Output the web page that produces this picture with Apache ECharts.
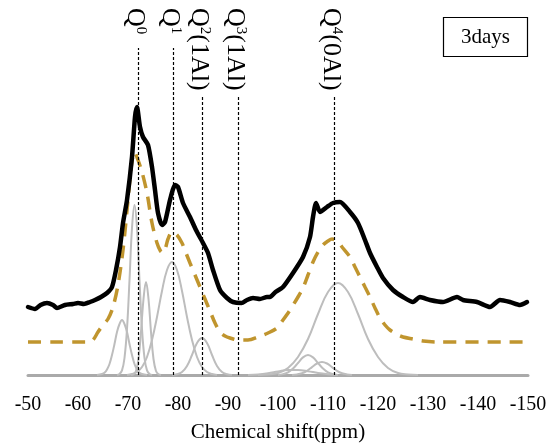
<!DOCTYPE html>
<html><head><meta charset="utf-8">
<script src="https://cdn.jsdelivr.net/npm/echarts@6/dist/echarts.min.js"></script>
<style>html,body{margin:0;padding:0;background:#fff}#c{width:554px;height:445px}</style>
</head><body><div id="c"></div>
<script>
// ---- data (ppm, intensity) ----
const measured = [[-50,68],[-51.4,66],[-52.5,70],[-53.8,72],[-55,70],[-55.8,67],[-57.4,70],[-59,71],[-60,72],[-61.2,71],[-62.4,73],[-63.4,75],[-64.6,78],[-65.8,82],[-66.8,88],[-67.6,105],[-68.4,128],[-69,152],[-69.8,175],[-70.8,218],[-71.4,258],[-71.8,268],[-72.4,248],[-73,238],[-74,230],[-74.8,208],[-75.4,185],[-76,162],[-76.8,150],[-77.4,153],[-78.4,175],[-79.4,190],[-80,188],[-81,172],[-82.4,158],[-83.6,145],[-85,132],[-86,122],[-87,105],[-88.4,85],[-89.8,77],[-91,73],[-92.7,72],[-93.8,75],[-95,77],[-96.4,76],[-97.8,78],[-98.4,78],[-99.5,83],[-101,88],[-103,102],[-105,118],[-106.4,138],[-107,158],[-107.6,172],[-108.4,163],[-109.8,168],[-111,172],[-112.4,173],[-114.4,163],[-116,152],[-117.4,135],[-118.4,122],[-119.8,108],[-121,97],[-123,85],[-125,78],[-127,73],[-128.4,78],[-130.4,75],[-133,73],[-135.8,78],[-137,75],[-139.8,73],[-142.4,68],[-144.4,75],[-146.4,73],[-148.4,70],[-149.8,73]];
const fitSum = [[-50,33],[-55,33],[-60,33],[-62,33],[-63,35],[-64,43],[-65,50],[-66,56],[-67,68],[-68,90],[-69,125],[-70,175],[-70.7,210],[-71.3,223],[-72,215],[-72.8,203],[-73.8,182],[-74.8,152],[-75.8,132],[-76.5,124],[-77,122],[-77.5,127],[-78,136],[-78.8,143],[-79.8,140],[-80.8,132],[-81.6,122],[-82.4,112],[-83.4,100],[-84.4,88],[-85.4,76],[-86.4,64],[-87.4,52],[-88.4,43],[-89.4,39],[-90.4,37],[-92,35],[-94,35],[-96,38],[-98,42],[-99.8,47],[-101,55],[-102.4,65],[-104,78],[-105,87],[-106,100],[-107,113],[-108,123],[-109,130],[-110,134],[-110.8,136],[-112,133],[-112.8,128],[-114.4,118],[-115.4,108],[-116.4,98],[-117.4,88],[-118.4,78],[-119.4,67],[-120.4,57],[-121.4,50],[-122.4,45],[-124,40],[-125,38],[-127,36],[-129,34],[-132,33],[-150,33]];
const peakA = [[-63.8,0],[-64.8,1],[-65.3,2.3],[-65.8,5.5],[-66.3,11],[-66.8,20],[-67.3,31],[-67.8,43],[-68.3,51],[-68.8,55],[-69.3,51],[-69.8,43],[-70.3,31],[-70.8,20],[-71.3,11],[-71.8,5.5],[-72.3,2.3],[-72.8,1],[-73.8,0]];
const peakB = [[-67.8,0],[-68.3,1],[-68.8,4.6],[-69.3,17],[-69.8,46],[-70.3,95],[-70.8,147],[-71.3,170],[-71.8,147],[-72.3,95],[-72.8,46],[-73.3,17],[-73.8,4.6],[-74.3,1],[-74.8,0]];
const peakC = [[-70.6,0],[-71.1,0.7],[-71.6,4],[-72.1,16],[-72.6,43],[-73.1,76],[-73.6,93],[-74.1,76],[-74.6,43],[-75.1,16],[-75.6,4],[-76.1,0.7],[-76.6,0]];
const peakD = [[-69.8,0],[-70.8,1],[-71.8,3],[-72.8,8],[-73.8,18],[-74.8,35],[-75.8,58],[-76.8,84],[-77.8,105],[-78.8,113],[-79.8,105],[-80.8,84],[-81.8,58],[-82.8,35],[-83.8,18],[-84.8,8],[-85.8,3],[-86.8,1],[-87.8,0]];
const peakE = [[-78.8,0],[-79.8,0.8],[-80.8,3],[-81.8,9],[-82.8,20],[-83.8,32],[-84.8,37],[-85.8,32],[-86.8,20],[-87.8,9],[-88.8,3],[-89.8,0.8],[-90.8,0]];
const peakF = [[-94,0],[-96,0.6],[-98,1.8],[-100,3.5],[-102,5],[-104,5],[-106,3.8],[-108,2],[-110,0.8],[-112,0]];
const peakG = [[-100,0],[-101,0.9],[-102,2.7],[-103,6.5],[-104,12],[-105,17.6],[-106,20],[-107,17.6],[-108,12],[-109,6.5],[-110,2.7],[-111,0.9],[-112,0]];
const peakH = [[-102.8,0],[-103.8,0.6],[-104.8,1.8],[-105.8,4.2],[-106.8,7.9],[-107.8,11.5],[-108.8,13],[-109.8,11.5],[-110.8,7.9],[-111.8,4.2],[-112.8,1.8],[-113.8,0.6],[-114.8,0]];
const peakI = [[-96,0],[-98,0.6],[-100,2],[-102,7],[-104,18],[-106,36],[-108,61],[-110,83],[-112,92],[-114,83],[-116,61],[-118,36],[-120,18],[-122,7],[-124,2],[-126,0.6],[-128,0]];
const siteShifts = [-72, -79, -84.8, -92, -111.2];
const siteTops = [327, 327, 278, 278, 278];
const siteNames = ['0', '1', '2', '3', '4'];
const siteSuffix = ['', '', '(1Al)', '(1Al)', '(0Al)'];
const sampleLabel = '3days';
const axisTitle = 'Chemical shift(ppm)';

const FONT = '"Liberation Serif", "Times New Roman", serif';
const chart = echarts.init(document.getElementById('c'), null, {renderer: 'canvas'});
const grayPeaks = [peakA, peakB, peakC, peakD, peakE, peakF, peakG, peakH, peakI];
const series = grayPeaks.map(d => ({
  type: 'line', data: d, smooth: 0.4, showSymbol: false, silent: true,
  lineStyle: {color: '#bdbdbd', width: 2}, z: 2
}));
series.push({
  type: 'line', data: fitSum, smooth: 0.3, showSymbol: false, silent: true,
  lineStyle: {color: '#C0952E', width: 3.5, type: [13, 9]}, z: 3
});
series.push({
  type: 'line', data: measured, smooth: 0.2, showSymbol: false, silent: true,
  lineStyle: {color: '#000', width: 4.5, cap: 'round', join: 'round'}, z: 4,
  markLine: {
    silent: true, symbol: 'none', label: {show: false},
    lineStyle: {color: '#000', width: 1.2, type: [3, 2]},
    data: siteShifts.map((s, i) => [{coord: [s, 0]}, {coord: [s, siteTops[i]]}])
  }
});
chart.setOption({
  animation: false,
  backgroundColor: '#fff',
  grid: {left: 28, width: 500, top: 5, height: 370, containLabel: false, outerBoundsMode: 'none'},
  xAxis: {
    type: 'value', min: -150, max: -50, interval: 10, inverse: true,
    axisLine: {show: true, lineStyle: {color: '#aaaaaa', width: 3}},
    axisTick: {show: false}, splitLine: {show: false},
    axisLabel: {color: '#000', fontSize: 20, fontFamily: FONT, margin: 20},
    name: axisTitle, nameLocation: 'middle', nameGap: 47,
    nameTextStyle: {color: '#000', fontSize: 21, fontFamily: FONT}
  },
  yAxis: {type: 'value', min: 0, max: 370, show: false},
  series: series
});
const graphics = [];
siteShifts.forEach((s, i) => {
  const p = chart.convertToPixel({gridIndex: 0}, [s, 0]);
  graphics.push({
    type: 'text', x: p[0] - 3, y: 8, rotation: -Math.PI / 2, silent: true,
    style: {
      text: '{q|Q}{s|' + siteNames[i] + '}' + (siteSuffix[i] ? '{q|' + siteSuffix[i] + '}' : ''),
      align: 'left', verticalAlign: 'middle',
      rich: {
        q: {fontSize: 26, fontFamily: FONT, fill: '#000', lineHeight: 26},
        s: {fontSize: 15, fontFamily: FONT, fill: '#000', verticalAlign: 'top', lineHeight: 15}
      }
    }
  });
});
graphics.push({type: 'rect', shape: {x: 443.5, y: 17.5, width: 84, height: 39}, style: {fill: '#fff', stroke: '#000', lineWidth: 1.2}, silent: true});
graphics.push({type: 'text', x: 485.5, y: 37, silent: true, style: {text: sampleLabel, fontSize: 21, fontFamily: FONT, fill: '#000', align: 'center', verticalAlign: 'middle'}});
chart.setOption({graphic: graphics});
</script></body></html>
